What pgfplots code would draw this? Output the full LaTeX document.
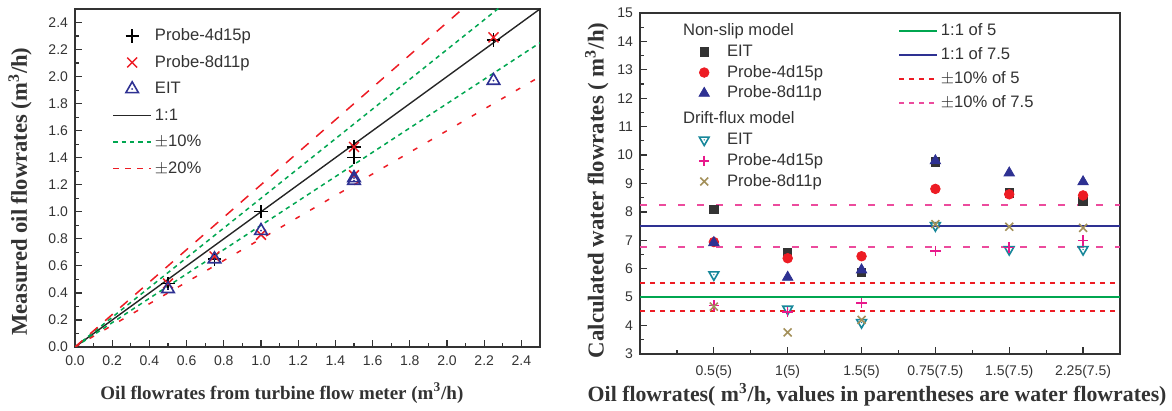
\documentclass[border=0pt]{standalone}
\usepackage{pgfplots}
\pgfplotsset{compat=1.18}
\usepackage{fontspec}
\setmainfont{Liberation Sans}
\newfontfamily\lserif{Liberation Serif}
\definecolor{cgreen}{HTML}{00A650}
\definecolor{cred}{HTML}{ED1C24}
\definecolor{cnavy}{HTML}{2E3192}
\definecolor{cteal}{HTML}{17879A}
\definecolor{cmag}{HTML}{E8198B}
\definecolor{ckhaki}{HTML}{A3905A}
\definecolor{cpink}{HTML}{EC4B9D}
\definecolor{caxis}{HTML}{333333}
\pgfdeclareplotmark{tridot}{%
  \pgfpathmoveto{\pgfqpoint{0pt}{\pgfplotmarksize}}%
  \pgfpathlineto{\pgfqpoint{-.866\pgfplotmarksize}{-.5\pgfplotmarksize}}%
  \pgfpathlineto{\pgfqpoint{.866\pgfplotmarksize}{-.5\pgfplotmarksize}}%
  \pgfpathclose\pgfusepathqstroke
  \pgfpathcircle{\pgfpointorigin}{0.14\pgfplotmarksize}\pgfusepathqfill}
\pgfplotsset{
  common/.style={
    scale only axis,
    axis line style={caxis, line width=0.7pt},
    tick style={caxis, line width=0.6pt},
    tick align=inside,
    xtick pos=bottom, ytick pos=left,
    major tick length=3.5pt, minor tick length=2pt,
    /pgf/number format/assume math mode=true,
    tick label style={font=\fontsize{7}{8}\selectfont, text=caxis},
    label style={font=\lserif\bfseries, text=caxis},
    legend style={draw=none, fill=none, inner sep=0pt, font=\fontsize{8.3}{9}\selectfont, text=caxis,
      nodes={inner xsep=1.5pt, inner ysep=0pt, text height=6.3pt, text depth=1.7pt}},
    legend cell align=left,
  },
  lline/.style={legend image code/.code={\draw[##1] (0pt,0pt) -- (19pt,0pt);}},
  lmark/.style={legend image code/.code={\path (0pt,0pt) (19pt,0pt); \draw[##1] plot coordinates {(9.5pt,0pt)};}},
}
\pgfplotstableread{
x y
0.5 0.47
1.0 1.00
1.5 1.48
0.75 0.65
1.5 1.40
2.25 2.27
}\leftA
\pgfplotstableread{
x y
0.5 0.47
1.0 0.83
1.5 1.48
0.75 0.67
1.5 1.27
2.25 2.29
}\leftB
\pgfplotstableread{
x y
0.5 0.43
1.0 0.86
1.5 1.23
0.75 0.65
1.5 1.25
2.25 1.97
}\leftC
% right plot: x position, value
\pgfplotstableread{
x nsEIT ns4d ns8d dfEIT df4d df8d
1 8.08 6.94 6.92 5.79 4.70 4.67
2 6.56 6.37 5.70 4.58 4.47 3.76
3 5.88 6.44 5.96 4.11 4.79 4.20
4 9.76 8.81 9.80 7.52 6.62 7.57
5 8.67 8.62 9.37 6.68 6.75 7.48
6 8.37 8.58 9.06 6.68 6.99 7.44
}\rightdata
\begin{document}
\begin{tikzpicture}
\useasboundingbox (0,0) rectangle (586pt,205.5pt);
% ---------------- left plot
\begin{axis}[common,
  at={(37.5pt,32pt)}, anchor=south west,
  width=232.5pt, height=169pt,
  xmin=0, xmax=2.5, ymin=0, ymax=2.5,
  xtick={0,0.2,...,2.41}, ytick={0,0.2,...,2.41},
  minor x tick num=1, minor y tick num=1,
  xticklabel style={yshift=-1pt, /pgf/number format/.cd, fixed, fixed zerofill, precision=1},
  yticklabel style={/pgf/number format/.cd, fixed, fixed zerofill, precision=1},
  xlabel={Oil flowrates from turbine flow meter (m\textsuperscript{3}/h)},
  ylabel={Measured oil flowrates (m\textsuperscript{3}/h)},
  xlabel style={at={(axis description cs:0.445,-0.136)}, anchor=center, font=\lserif\bfseries\fontsize{9.5}{11}\selectfont},
  ylabel style={at={(axis description cs:-0.118,0.46)}, anchor=center, font=\lserif\bfseries\fontsize{11.3}{13}\selectfont},
  legend style={at={(axis description cs:0.0795,0.945)}, anchor=north west, row sep=5.25pt},
]
\addlegendimage{lmark, only marks, mark=+, mark size=3.3pt, black, line width=0.7pt}
\addlegendentry{Probe-4d15p}
\addlegendimage{lmark, only marks, mark=x, mark size=3.5pt, cred, line width=0.75pt}
\addlegendentry{Probe-8d11p}
\addlegendimage{lmark, only marks, mark=tridot, mark size=3.6pt, cnavy, fill=cnavy, line width=0.8pt}
\addlegendentry{EIT}
\addlegendimage{lline, black!85, line width=0.7pt}
\addlegendentry{1:1}
\addlegendimage{lline, cgreen, line width=0.75pt, dash pattern=on 2.2pt off 2pt}
\addlegendentry{$\pm$10\%}
\addlegendimage{lline, cred, line width=0.75pt, dash pattern=on 3pt off 3pt}
\addlegendentry{$\pm$20\%}
\addplot[forget plot, black!85, line width=0.7pt] coordinates {(0,0) (2.5,2.5)};
\addplot[forget plot, cgreen, line width=0.75pt, dash pattern=on 2.2pt off 2pt] coordinates {(0,0) (2.5,2.75)};
\addplot[forget plot, cgreen, line width=0.75pt, dash pattern=on 2.2pt off 2pt] coordinates {(0,0) (2.5,2.25)};
\addplot[forget plot, cred, line width=0.75pt, dash pattern=on 5pt off 5pt] coordinates {(0,0) (2.5,3.0)};
\addplot[forget plot, cred, line width=0.75pt, dash pattern=on 2.5pt off 6pt] coordinates {(0,0) (2.5,2.0)};
\addplot[forget plot, only marks, mark=+, mark size=3.3pt, black, line width=0.7pt] table[x=x,y=y] {\leftA};
\addplot[forget plot, only marks, mark=x, mark size=3.5pt, cred, line width=0.75pt] table[x=x,y=y] {\leftB};
\addplot[forget plot, only marks, mark=tridot, mark size=3.6pt, cnavy, fill=cnavy, line width=0.8pt] table[x=x,y=y] {\leftC};
\end{axis}
% ---------------- right plot: lines
\begin{axis}[common,
  at={(320pt,28.5pt)}, anchor=south west,
  width=240pt, height=170.5pt,
  xmin=0, xmax=6.5, ymin=3, ymax=15,
  xtick={1,...,6},
  xticklabels={0.5(5),1(5),1.5(5),0.75(7.5),1.5(7.5),2.25(7.5)},
  minor xtick={0.5,1.5,...,5.5},
  ytick={3,...,15}, minor y tick num=1,
  xticklabel style={yshift=-2pt},
  xlabel={Oil flowrates( m\textsuperscript{3}/h, values in parentheses are water flowrates)},
  ylabel={Calculated water flowrates ( m\textsuperscript{3}/h)},
  xlabel style={at={(axis description cs:0.494,-0.12)}, anchor=center, font=\lserif\bfseries\fontsize{10.9}{12}\selectfont},
  ylabel style={at={(axis description cs:-0.09,0.48)}, anchor=center, font=\lserif\bfseries\fontsize{11.4}{13}\selectfont},
  legend style={at={(axis description cs:0.537,0.972)}, anchor=north west, row sep=4pt},
  unbounded coords=jump,
]
\addlegendimage{lline, cgreen, line width=0.9pt}
\addlegendentry{1:1 of 5}
\addlegendimage{lline, cnavy, line width=0.9pt}
\addlegendentry{1:1 of 7.5}
\addlegendimage{lline, cred, line width=0.9pt, dash pattern=on 2.7pt off 2.3pt}
\addlegendentry{$\pm$10\% of 5}
\addlegendimage{lline, cpink, line width=0.9pt, dash pattern=on 2.7pt off 2.3pt}
\addlegendentry{$\pm$10\% of 7.5}
\addplot[forget plot, color=cgreen, line width=0.9pt] coordinates {(0,5) (6.5,5)};
\addplot[forget plot, color=cnavy, line width=0.9pt] coordinates {(0,7.5) (6.5,7.5)};
\addplot[forget plot, color=cred, line width=1pt, dash pattern=on 2.7pt off 2.3pt] table {
x y
0 4.5
6.5 4.5
3 nan
0 5.5
6.5 5.5
};
\addplot[forget plot, color=cpink, line width=1pt, dash pattern=on 3.5pt off 6pt] table {
x y
0 6.75
6.5 6.75
3 nan
0 8.25
6.5 8.25
};
\end{axis}
% ---------------- right plot: markers
\begin{axis}[common, hide axis,
  at={(320pt,28.5pt)}, anchor=south west,
  width=240pt, height=170.5pt,
  xmin=0, xmax=6.5, ymin=3, ymax=15,
  legend style={at={(axis description cs:0.0917,0.972)}, anchor=north west, row sep=2.4pt},
]
\addlegendimage{empty legend}
\addlegendentry{\hspace{-22pt}Non-slip model}
\addplot[lmark, only marks, mark=square*, mark size=2.1pt, caxis] table[x=x,y=nsEIT] {\rightdata};
\addlegendentry{EIT}
\addplot[lmark, only marks, mark=*, mark size=2.4pt, cred] table[x=x,y=ns4d] {\rightdata};
\addlegendentry{Probe-4d15p}
\addplot[lmark, only marks, mark=triangle*, mark size=3pt, cnavy] table[x=x,y=ns8d] {\rightdata};
\addlegendentry{Probe-8d11p}
\addlegendimage{empty legend}
\addlegendentry[text height=8.8pt]{\hspace{-22pt}Drift-flux model}
\addplot[lmark, only marks, mark=tridot, mark size=2.8pt, cteal, fill=cteal, line width=0.8pt, mark options={rotate=180}] table[x=x,y=dfEIT] {\rightdata};
\addlegendentry{EIT}
\addplot[lmark, only marks, mark=+, mark size=2.6pt, cmag, line width=0.8pt] table[x=x,y=df4d] {\rightdata};
\addlegendentry{Probe-4d15p}
\addplot[lmark, only marks, mark=x, mark size=2.8pt, ckhaki, line width=0.8pt] table[x=x,y=df8d] {\rightdata};
\addlegendentry{Probe-8d11p}
\end{axis}
\end{tikzpicture}
\end{document}
